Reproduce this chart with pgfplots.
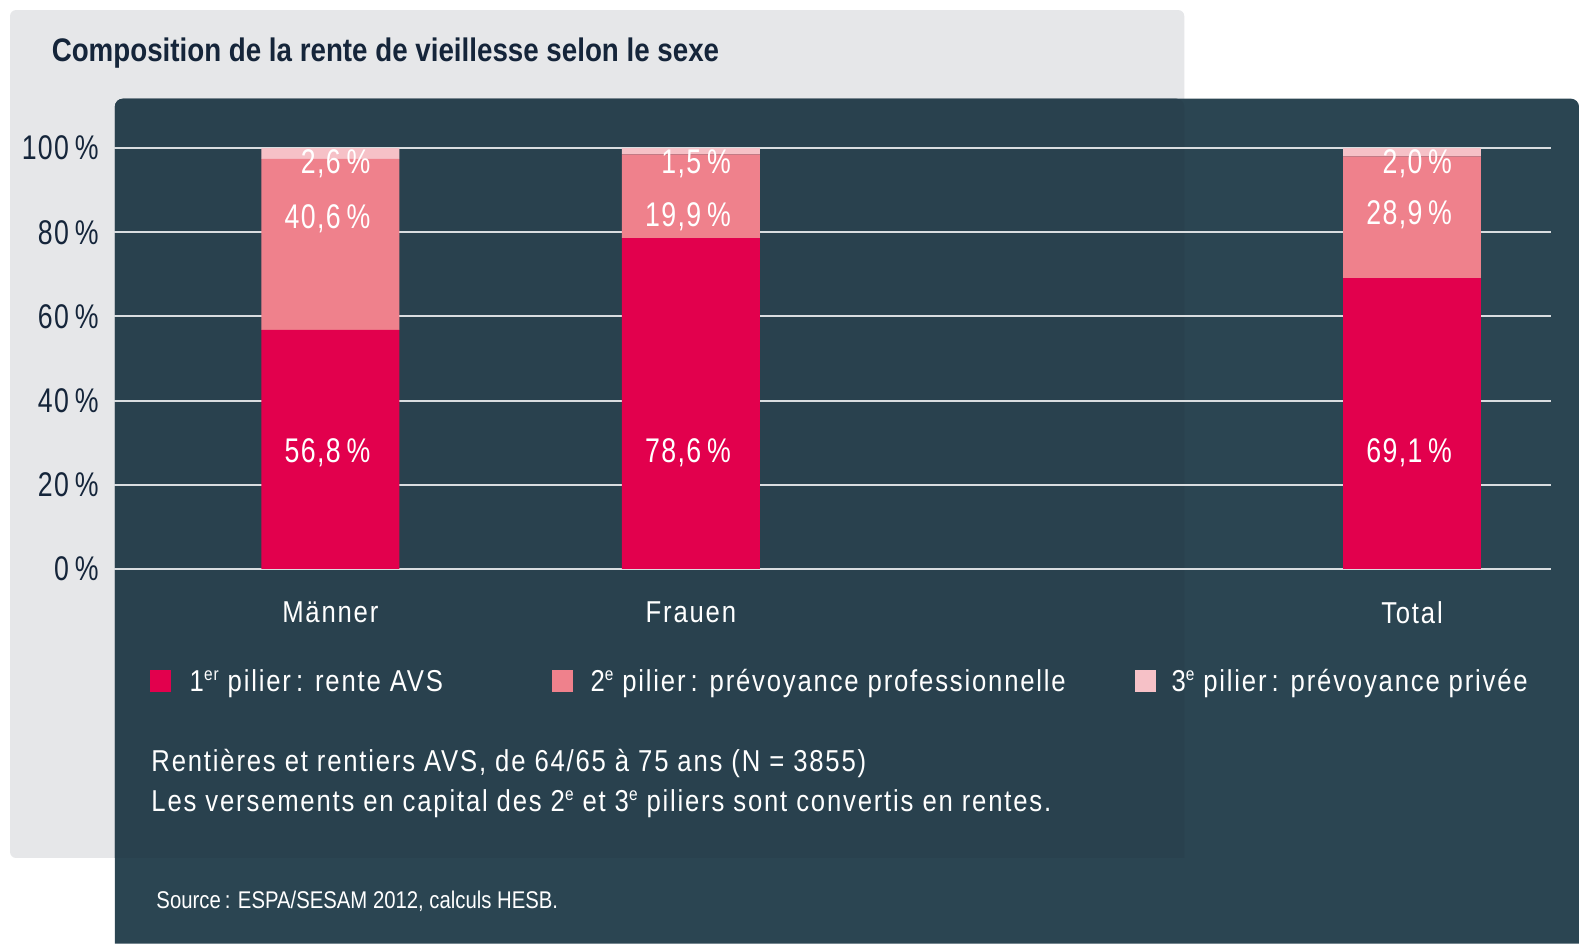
\documentclass[border=0pt]{standalone}
\usepackage{fontspec}
\usepackage{pgfplots}
\pgfplotsset{compat=1.18}
\setmainfont{Liberation Sans}[FakeStretch=0.85, LetterSpace=6]
\newfontfamily\titlefont{Liberation Sans}[FakeStretch=0.85, BoldFont={Liberation Sans Bold}]
\newfontfamily\numfont{Liberation Sans}[FakeStretch=0.78, LetterSpace=4]
\newfontfamily\srcfont{Liberation Sans}[FakeStretch=0.84, LetterSpace=0]
\definecolor{bg}{HTML}{E6E7E9}
\definecolor{panel}{HTML}{2B4552}
\definecolor{panelov}{HTML}{29414E}
\definecolor{c1}{HTML}{E2004D}
\definecolor{c2}{HTML}{EF818C}
\definecolor{c3}{HTML}{F6C1C7}
\definecolor{titlec}{HTML}{15253A}
\definecolor{gridc}{HTML}{D9DDE0}
\newcommand{\lbl}{\fontsize{15}{18}\selectfont}
\newcommand{\nlbl}{\numfont\fontsize{17}{20}\selectfont}
\newcommand{\sups}[1]{\raisebox{0.38em}{\fontsize{9}{9}\selectfont #1}}
\newcommand{\pc}{\hspace{0.17em}\%}
\tikzset{vlbl/.style={anchor=east, text=white, font=\nlbl, inner sep=0pt}}
\pgfplotsset{common/.style={
  at={(56.5pt,-282.5pt)}, anchor=south west,
  scale only axis, width=713.5pt, height=209pt,
  xmin=-0.6006, xmax=3.385, ymin=0, ymax=100, clip=false}}
\begin{document}
\begin{tikzpicture}
\begin{scope}[x=0.5pt,y=-0.5pt]
  \fill[white] (0,0) rectangle (1568,937);
  \fill[bg, rounded corners=3pt] (10,10) rectangle (1176,852);
  \fill[panel, rounded corners=4pt] (114,937) -- (114,98) -- (1568,98) [sharp corners] -- (1568,937) -- cycle;
  \fill[panelov, rounded corners=4pt] (114,852) -- (114,98) -- (1176,98) [sharp corners] -- (1176,852) -- cycle;
  \node[anchor=base west, text=titlec, inner sep=0pt] at (51,61) {\titlefont\bfseries\fontsize{16.2}{19}\selectfont Composition de la rente de vieillesse selon le sexe};
  \fill[c1] (149,665) rectangle (170,687);
  \node[anchor=base west, text=white, inner sep=0pt] at (188,687) {\lbl 1\sups{er} pilier\,: rente AVS};
  \fill[c2] (548,665) rectangle (569,687);
  \node[anchor=base west, text=white, inner sep=0pt] at (586,687) {\lbl 2\sups{e} pilier\,: prévoyance professionnelle};
  \fill[c3] (1127,665) rectangle (1148,687);
  \node[anchor=base west, text=white, inner sep=0pt] at (1163,687) {\lbl 3\sups{e} pilier\,: prévoyance privée};
  \node[anchor=base west, text=white, inner sep=0pt] at (150,766) {\lbl Rentières et rentiers AVS, de 64/65 à 75 ans (N = 3855)};
  \node[anchor=base west, text=white, inner sep=0pt] at (150,806) {\lbl Les versements en capital des 2\sups{e} et 3\sups{e} piliers sont convertis en rentes.};
  \node[anchor=base west, text=white, inner sep=0pt] at (155,902) {\srcfont\fontsize{12}{14}\selectfont Source\,: ESPA/SESAM 2012, calculs HESB.};
\end{scope}
\begin{axis}[
  common,
  ybar stacked, bar width=68.5pt,
  axis line style={draw=none}, major tick length=0pt,
  ytick={0,20,40,60,80,100},
  ymajorgrids, grid style={color=gridc, line width=1pt},
  xtick={0,1,3}, xticklabels={Männer,Frauen,Total},
  /pgf/number format/assume math mode=true,
  yticklabel={\pgfmathprintnumber{\tick}\pc},
  yticklabel style={text=titlec, font=\nlbl, xshift=-4pt},
  xticklabel style={text=white, font=\lbl, yshift=-12.5pt},
]
\addplot[fill=c1, draw=none] coordinates {(0,56.8) (1,78.6) (3,69.1)};
\addplot[fill=c2, draw=none] coordinates {(0,40.6) (1,19.9) (3,28.9)};
\addplot[fill=c3, draw=none] coordinates {(0,2.6) (1,1.5) (3,2.0)};
\end{axis}
\begin{axis}[common, hide axis]
\node[vlbl] at (axis cs:0.112,27.7) {56,8\pc};
\node[vlbl] at (axis cs:1.112,27.7) {78,6\pc};
\node[vlbl] at (axis cs:3.112,27.7) {69,1\pc};
\node[vlbl] at (axis cs:0.112,83.3) {40,6\pc};
\node[vlbl] at (axis cs:1.112,83.7) {19,9\pc};
\node[vlbl] at (axis cs:3.112,84.2) {28,9\pc};
\node[vlbl] at (axis cs:0.112,96.2) {2,6\pc};
\node[vlbl] at (axis cs:1.112,96.2) {1,5\pc};
\node[vlbl] at (axis cs:3.112,96.2) {2,0\pc};
\end{axis}
\end{tikzpicture}
\end{document}
